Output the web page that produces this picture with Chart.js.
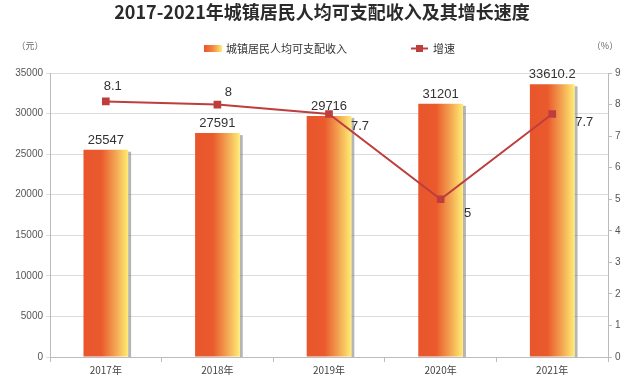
<!DOCTYPE html>
<html><head><meta charset="utf-8">
<script src="https://cdn.jsdelivr.net/npm/chart.js@4/dist/chart.umd.min.js"></script>
<style>html,body{margin:0;padding:0;background:#fff}#wrap{width:641px;height:383px;position:relative}</style>
</head><body><div id="wrap"><canvas id="c" width="641" height="383"></canvas></div>
<script>
const title = "2017-2021年城镇居民人均可支配收入及其增长速度";
const categories = ["2017年","2018年","2019年","2020年","2021年"];
const incomeLabel = "城镇居民人均可支配收入";
const income = [25547, 27591, 29716, 31201, 33610.2];
const growthLabel = "增速";
const growth = [8.1, 8, 7.7, 5, 7.7];
const leftUnit = "（元）";
const rightUnit = "（%）";

const FONT = '"Noto Sans CJK SC","Liberation Sans",sans-serif';
const NUMFONT = '"Liberation Sans",Arial,sans-serif';
const BAR_RATIO = 0.4;

function makeGrad(c, x0, x1){
  const g = c.createLinearGradient(x0, 0, x1, 0);
  g.addColorStop(0, '#E9552C');
  g.addColorStop(0.4, '#EA5A2D');
  g.addColorStop(0.72, '#F3A552');
  g.addColorStop(1, '#FFEC72');
  return g;
}

const lineLabelPos = [[7,-15],[11,-12],[31,12],[27,14],[32,8]];

const deco = {
  id:'deco',
  beforeDatasetsDraw(chart){
    const c = chart.ctx;
    const meta = chart.getDatasetMeta(0);
    c.save();
    c.fillStyle = 'rgba(120,120,120,0.55)';
    meta.data.forEach(b=>{
      b.options.backgroundColor = makeGrad(c, b.x - b.width/2, b.x + b.width/2);
      c.fillRect(b.x + b.width/2, b.y + 2, 3, chart.chartArea.bottom - b.y - 2);
    });
    c.restore();
  },
  afterDatasetsDraw(chart){
    const c = chart.ctx;
    c.save();
    c.fillStyle = '#333';
    c.font = '13px ' + NUMFONT;
    c.textAlign = 'center';
    c.textBaseline = 'bottom';
    const m0 = chart.getDatasetMeta(0);
    m0.data.forEach((b,i)=>{ c.fillText(String(income[i]), b.x, b.y - 3); });
    c.textBaseline = 'middle';
    const m1 = chart.getDatasetMeta(1);
    m1.data.forEach((p,i)=>{
      const o = lineLabelPos[i];
      c.fillText(String(growth[i]), p.x + o[0], p.y + o[1]);
    });
    c.restore();
  },
  afterDraw(chart){
    const c = chart.ctx;
    c.save();
    c.fillStyle = '#2b2b2b';
    c.font = 'bold 18px ' + FONT;
    c.textAlign = 'center';
    c.textBaseline = 'middle';
    c.fillText(title, 322, 12);
    c.font = '9px ' + FONT;
    c.fillStyle = '#666';
    c.fillText(leftUnit, 30, 46);
    c.fillText(rightUnit, 605, 46);
    const g = c.createLinearGradient(204,0,222,0);
    g.addColorStop(0,'#E9552C'); g.addColorStop(0.5,'#F08A40'); g.addColorStop(1,'#FFEC72');
    c.fillStyle = g;
    c.fillRect(204, 45, 18, 7);
    c.fillStyle = '#333';
    c.font = '11px ' + FONT;
    c.textAlign = 'left';
    c.fillText(incomeLabel, 226, 48.5);
    c.strokeStyle = '#BE3E3E'; c.lineWidth = 2;
    c.beginPath(); c.moveTo(411,48.5); c.lineTo(428,48.5); c.stroke();
    c.fillStyle = '#BE3E3E';
    c.fillRect(416, 45, 7, 7);
    c.fillStyle = '#333';
    c.fillText(growthLabel, 433, 48.5);
    c.restore();
  }
};

new Chart(document.getElementById('c'), {
  data:{
    labels: categories,
    datasets:[
      {type:'bar', label:incomeLabel, data:income, yAxisID:'y', backgroundColor:(ctx)=>'#E9552C',
       barPercentage:BAR_RATIO, categoryPercentage:1, order:2},
      {type:'line', label:growthLabel, data:growth, yAxisID:'y1', borderColor:'#BE3E3E',
       backgroundColor:'#BE3E3E', borderWidth:2, pointStyle:'rect', pointRadius:4, pointHoverRadius:4,
       tension:0, order:1}
    ]
  },
  options:{
    responsive:false, animation:false, devicePixelRatio:1,
    layout:{padding:{top:73, left:0, right:0, bottom:0}},
    plugins:{legend:{display:false}, title:{display:false}, tooltip:{enabled:false}},
    scales:{
      x:{
        offset:true,
        grid:{display:true, drawOnChartArea:false, drawTicks:true, tickLength:5, color:'#bbb', offset:true},
        border:{color:'#bbb'},
        ticks:{color:'#444', font:{size:10, family:FONT}, padding:2},
        afterFit(s){ s.height = 26; }
      },
      y:{
        position:'left', min:0, max:35000,
        ticks:{stepSize:5000, color:'#555', font:{size:10, family:NUMFONT}, padding:3, callback:(v)=>String(v)},
        grid:{color:'#dcdcdc', tickLength:4, drawTicks:true},
        border:{color:'#bbb'},
        afterFit(s){ s.width = 50; }
      },
      y1:{
        position:'right', min:0, max:9,
        ticks:{stepSize:1, color:'#555', font:{size:10, family:NUMFONT}, padding:3, callback:(v)=>String(v)},
        grid:{drawOnChartArea:false, tickLength:4, color:'#bbb'},
        border:{color:'#bbb'},
        afterFit(s){ s.width = 33; }
      }
    }
  },
  plugins:[deco]
});
</script></body></html>
